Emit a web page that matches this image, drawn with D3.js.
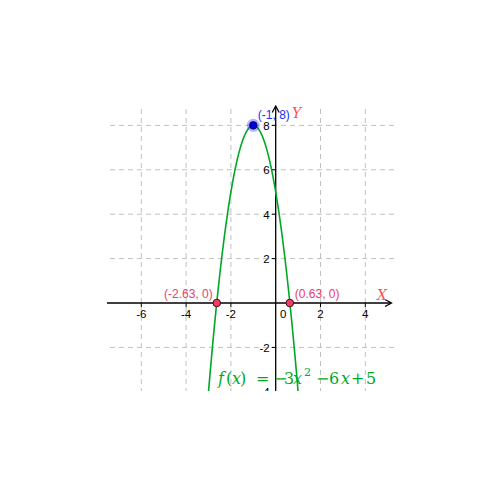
<!DOCTYPE html>
<html><head><meta charset="utf-8">
<script src="https://cdn.jsdelivr.net/npm/d3@7"></script>
<style>body{margin:0;background:#fff}svg{display:block}</style>
</head><body>
<svg id="c" width="500" height="500"></svg>
<script>
// ---- data ----
const coeffs = [-3, -6, 5];            // f(x) = a x^2 + b x + c
const xTicks = [-6, -4, -2, 0, 2, 4];
const yTicks = [-4, -2, 2, 4, 6, 8];
const vertex = [{x: -1, y: 8, label: "(-1, 8)"}];
const roots = [{x: -2.63, y: 0, label: "(-2.63, 0)"}, {x: 0.63, y: 0, label: "(0.63, 0)"}];
const xDomain = [-7.5, 5.25];
const yDomain = [-3.9, 8.85];

const svg = d3.select("#c");
const x = d3.scaleLinear().domain(xDomain).range([107.7, 393.3]);
const y = d3.scaleLinear().domain(yDomain).range([389.6, 106.5]);

svg.append("defs").append("clipPath").attr("id","clip")
  .append("rect").attr("x",107).attr("y",100).attr("width",287).attr("height",291);

const g = svg.append("g").attr("clip-path","url(#clip)");
const grid = "#c0c0c0";

// grid
g.selectAll(".vg").data(xTicks.filter(d=>d!==0)).enter().append("line")
  .attr("x1",d=>x(d)).attr("x2",d=>x(d)).attr("y1",109).attr("y2",392)
  .attr("stroke",grid).attr("stroke-dasharray","5,4");
g.selectAll(".hg").data(yTicks).enter().append("line")
  .attr("y1",d=>y(d)).attr("y2",d=>y(d)).attr("x1",110).attr("x2",394)
  .attr("stroke",grid).attr("stroke-dasharray","5,4");

// axes
const x0 = x(0), y0 = y(0);
g.append("line").attr("x1",107).attr("x2",391).attr("y1",y0).attr("y2",y0).attr("stroke","#000").attr("stroke-width",1.3);
g.append("path").attr("d",`M${385},${y0-3.5}L${391.5},${y0}L${385},${y0+3.5}`).attr("fill","none").attr("stroke","#000").attr("stroke-width",1.3);
g.append("line").attr("x1",x0).attr("x2",x0).attr("y1",392).attr("y2",106).attr("stroke","#000").attr("stroke-width",1.3);
g.append("path").attr("d",`M${x0-3.5},${112.5}L${x0},${106}L${x0+3.5},${112.5}`).attr("fill","none").attr("stroke","#000").attr("stroke-width",1.3);

// ticks
g.selectAll(".xt").data(xTicks.filter(d=>d!==0)).enter().append("line")
  .attr("x1",d=>x(d)).attr("x2",d=>x(d)).attr("y1",y0).attr("y2",y0+4).attr("stroke","#000");
g.selectAll(".yt").data(yTicks).enter().append("line")
  .attr("y1",d=>y(d)).attr("y2",d=>y(d)).attr("x1",x0-4).attr("x2",x0).attr("stroke","#000");

const tf = "Liberation Sans, Arial, sans-serif";
g.selectAll(".xl").data(xTicks).enter().append("text")
  .attr("x",d=> d===0 ? x0+7.5 : x(d)).attr("y",y0+15)
  .attr("text-anchor","middle").attr("font-family",tf).attr("font-size",11.5).attr("fill","#000")
  .text(d=>d);
g.selectAll(".yl").data(yTicks).enter().append("text")
  .attr("x",x0-6).attr("y",d=>y(d)+4.5)
  .attr("text-anchor","end").attr("font-family",tf).attr("font-size",11.5).attr("fill","#000")
  .text(d=>d);

// curve
const f = t => coeffs[0]*t*t + coeffs[1]*t + coeffs[2];
const xs = d3.range(-3.3, 1.3001, 0.02);
g.append("path").datum(xs)
  .attr("d", d3.line().x(d=>x(d)).y(d=>y(f(d))))
  .attr("fill","none").attr("stroke","#00a828").attr("stroke-width",1.6);

// axis names
g.append("text").attr("x",377).attr("y",300).attr("font-family","DejaVu Serif, serif").attr("font-style","italic")
  .attr("font-size",14).attr("fill","#ff5050").text("X");
g.append("text").attr("x",292).attr("y",118).attr("font-family","DejaVu Serif, serif").attr("font-style","italic")
  .attr("font-size",14).attr("fill","#ff5050").text("Y");

// vertex point
g.selectAll(".vx").data(vertex).enter().append("circle")
  .attr("cx",d=>x(d.x)).attr("cy",d=>y(d.y)).attr("r",6.5).attr("fill","rgba(60,60,255,0.4)");
g.selectAll(".vp").data(vertex).enter().append("circle")
  .attr("cx",d=>x(d.x)).attr("cy",d=>y(d.y)).attr("r",3.8).attr("fill","#0000e0").attr("stroke","#000040").attr("stroke-width",0.8);
g.selectAll(".vl").data(vertex).enter().append("text")
  .attr("x",d=>x(d.x)+4.5).attr("y",d=>y(d.y)-6.5)
  .attr("font-family",tf).attr("font-size",12).attr("fill","#2030f0").text(d=>d.label);

// roots
g.selectAll(".rp").data(roots).enter().append("circle")
  .attr("cx",d=>x(d.x)).attr("cy",d=>y(d.y)).attr("r",3.8).attr("fill","#f03c64").attr("stroke","#400010").attr("stroke-width",0.9);
g.selectAll(".rl").data(roots).enter().append("text")
  .attr("x",(d,i)=> i===0 ? x(d.x)-4 : x(d.x)+5).attr("y",y0-5)
  .attr("text-anchor",(d,i)=> i===0 ? "end" : "start")
  .attr("font-family",tf).attr("font-size",12).attr("fill","#e8406c").text(d=>d.label);

// formula
const fm = svg.append("text").attr("y",384).attr("font-family","DejaVu Serif, serif")
  .attr("font-size",16).attr("fill","#00a828");
const parts = [
  {t:"f", x:218, it:true},{t:"(", x:226},{t:"x", x:232, it:true},{t:")", x:240},
  {t:"=", x:256},{t:"\u2212", x:274},{t:"3", x:284},{t:"x", x:293, it:true},
  {t:"2", x:304, sup:true},{t:"\u2212", x:316},{t:"6", x:329},{t:"x", x:341, it:true},
  {t:"+", x:351},{t:"5", x:366}
];
parts.forEach(p=>{
  fm.append("tspan").attr("x",p.x).attr("y",p.sup?376:384)
    .attr("font-style",p.it?"italic":"normal").attr("font-size",p.sup?11:16).text(p.t);
});
</script>
</body></html>
